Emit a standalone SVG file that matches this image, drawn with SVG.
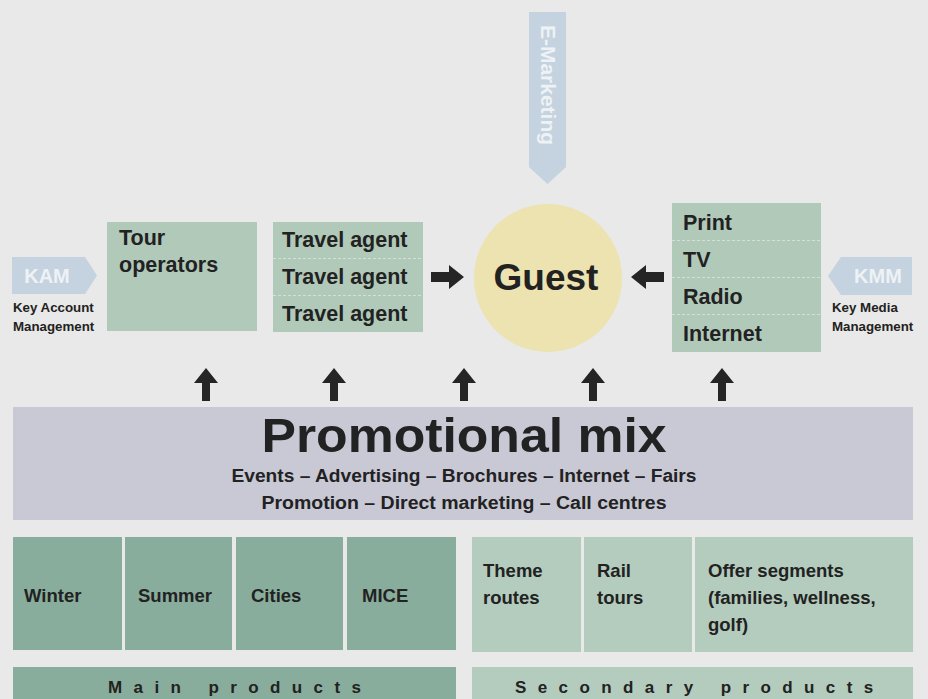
<svg xmlns="http://www.w3.org/2000/svg" width="928" height="699" viewBox="0 0 928 699">
<style>
text{font-family:"Liberation Sans",Arial,sans-serif;font-weight:bold;fill:#222}
.lg{fill:#b0c9b9}
.dg{fill:#89ad9c}
.sg{fill:#b4ccbd}
.blue{fill:#c4d3df}
.bt{fill:#eef2f5;font-size:20px}
.b20{font-size:21.5px}
.b18{font-size:18.5px}
.sm{font-size:13.3px}
.div{stroke:#d3dfd7;stroke-width:1;stroke-dasharray:3 2}
.ar{fill:#252525}
.sp{font-size:17px;letter-spacing:11.4px}
</style>
<rect width="928" height="699" fill="#e8e9e8"/>

<g id="e-marketing">
<polygon class="blue" points="529,12 566,12 566,167 547.5,184 529,167"/>
<text class="bt" transform="translate(541,85) rotate(90)" text-anchor="middle" style="font-size:21px">E-Marketing</text>
</g>

<g id="kam">
<polygon class="blue" points="12,257 85,257 97,275.5 85,294 12,294"/>
<text class="bt" x="47" y="283" text-anchor="middle">KAM</text>
<text class="sm" x="13" y="312">Key Account</text>
<text class="sm" x="13" y="331">Management</text>
</g>

<g id="tour-operators">
<rect class="lg" x="107" y="222" width="150" height="109"/>
<text class="b20" x="119" y="245">Tour</text>
<text class="b20" x="119" y="272">operators</text>
</g>

<g id="travel-agents">
<rect class="lg" x="273" y="222" width="150" height="110"/>
<line class="div" x1="273" y1="258.5" x2="423" y2="258.5"/>
<line class="div" x1="273" y1="295.5" x2="423" y2="295.5"/>
<text class="b20" x="282" y="247">Travel agent</text>
<text class="b20" x="282" y="284">Travel agent</text>
<text class="b20" x="282" y="321">Travel agent</text>
</g>

<g id="guest">
<circle cx="548" cy="278" r="74" fill="#ece3b0"/>
<text x="546" y="290" text-anchor="middle" style="font-size:37px">Guest</text>
</g>

<g id="media">
<rect class="lg" x="672" y="203" width="149" height="149"/>
<line class="div" x1="672" y1="240.5" x2="821" y2="240.5"/>
<line class="div" x1="672" y1="277.5" x2="821" y2="277.5"/>
<line class="div" x1="672" y1="314.5" x2="821" y2="314.5"/>
<text class="b20" x="683" y="230">Print</text>
<text class="b20" x="683" y="267">TV</text>
<text class="b20" x="683" y="304">Radio</text>
<text class="b20" x="683" y="341">Internet</text>
</g>

<g id="kmm">
<polygon class="blue" points="828,276 841,257 912,257 912,295 841,295"/>
<text class="bt" x="878" y="283" text-anchor="middle">KMM</text>
<text class="sm" x="832" y="312">Key Media</text>
<text class="sm" x="832" y="331">Management</text>
</g>

<g id="connectors">
<polygon class="ar" points="431,272 449,272 449,265 464,277 449,289 449,282 431,282"/>
<polygon class="ar" points="664,272 646,272 646,265 631,277 646,289 646,282 664,282"/>
<g transform="translate(206,0)"><polygon class="ar" points="0,368 12,383 4,383 4,401 -4,401 -4,383 -12,383"/></g>
<g transform="translate(334,0)"><polygon class="ar" points="0,368 12,383 4,383 4,401 -4,401 -4,383 -12,383"/></g>
<g transform="translate(464,0)"><polygon class="ar" points="0,368 12,383 4,383 4,401 -4,401 -4,383 -12,383"/></g>
<g transform="translate(593,0)"><polygon class="ar" points="0,368 12,383 4,383 4,401 -4,401 -4,383 -12,383"/></g>
<g transform="translate(722,0)"><polygon class="ar" points="0,368 12,383 4,383 4,401 -4,401 -4,383 -12,383"/></g>
</g>

<g id="promotional-mix">
<rect x="13" y="407" width="900" height="113" fill="#c9c9d6"/>
<text x="464" y="452" text-anchor="middle" style="font-size:48px" textLength="405" lengthAdjust="spacingAndGlyphs">Promotional mix</text>
<text x="464" y="482" text-anchor="middle" style="font-size:18px" textLength="465" lengthAdjust="spacingAndGlyphs">Events – Advertising – Brochures – Internet – Fairs</text>
<text x="464" y="509" text-anchor="middle" style="font-size:18px" textLength="405" lengthAdjust="spacingAndGlyphs">Promotion – Direct marketing – Call centres</text>
</g>

<g id="winter"><rect class="dg" x="13" y="537" width="109" height="113"/><text class="b18" x="24" y="602">Winter</text></g>
<g id="summer"><rect class="dg" x="125" y="537" width="107" height="113"/><text class="b18" x="138" y="602">Summer</text></g>
<g id="cities"><rect class="dg" x="236" y="537" width="107" height="113"/><text class="b18" x="251" y="602">Cities</text></g>
<g id="mice"><rect class="dg" x="347" y="537" width="109" height="113"/><text class="b18" x="362" y="602">MICE</text></g>

<g id="theme-routes"><rect class="sg" x="472" y="537" width="109" height="115"/><text class="b18" x="483" y="577">Theme</text><text class="b18" x="483" y="604">routes</text></g>
<g id="rail-tours"><rect class="sg" x="584" y="537" width="108" height="115"/><text class="b18" x="597" y="577">Rail</text><text class="b18" x="597" y="604">tours</text></g>
<g id="offer-segments"><rect class="sg" x="695" y="537" width="218" height="115"/><text class="b18" x="708" y="577">Offer segments</text><text class="b18" x="708" y="604">(families, wellness,</text><text class="b18" x="708" y="631">golf)</text></g>

<g id="main-products"><rect class="dg" x="13" y="667" width="443" height="40"/><text class="sp" x="108" y="693">Main products</text></g>
<g id="secondary-products"><rect class="sg" x="472" y="667" width="441" height="40"/><text class="sp" x="515" y="693">Secondary products</text></g>
</svg>
